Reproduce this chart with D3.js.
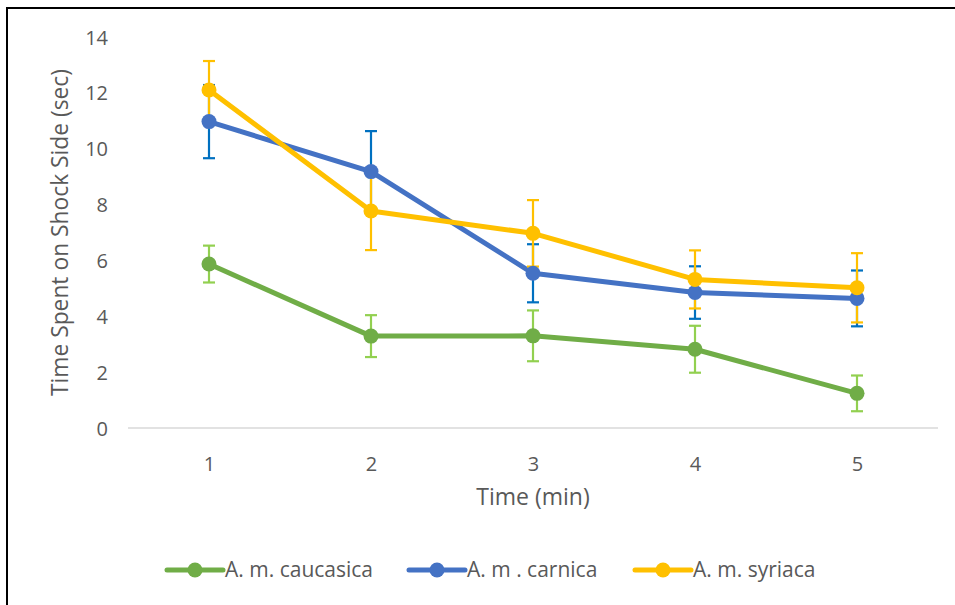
<!DOCTYPE html>
<html>
<head>
<meta charset="utf-8">
<script src="https://cdn.jsdelivr.net/npm/d3@7"></script>
<style>
  html, body { margin: 0; padding: 0; background: #fff; }
  svg { display: block; }
  text { font-family: "Open Sans", Lato, sans-serif; fill: #595959; }
</style>
</head>
<body>
<svg id="chart" width="955" height="605"></svg>
<script>
// Time points (minutes)
const minutes = ["1", "2", "3", "4", "5"];

// Mean time spent on the shock side (sec) per subspecies
const caucasica = [5.87, 3.29, 3.30, 2.82, 1.24];
const carnica   = [10.97, 9.18, 5.54, 4.85, 4.64];
const syriaca   = [12.10, 7.77, 6.97, 5.32, 5.02];

// Error bar half-widths
const caucasicaErr = [0.66, 0.75, 0.91, 0.84, 0.64];
const carnicaErr   = [1.31, 1.45, 1.04, 0.94, 1.00];
const syriacaErr   = [1.04, 1.40, 1.19, 1.04, 1.24];

const seriesNames = ["A. m. caucasica", "A. m . carnica", "A. m. syriaca"];
const yTicks = [0, 2, 4, 6, 8, 10, 12, 14];

const series = [
  { name: seriesNames[0], values: caucasica, err: caucasicaErr, color: "#70AD47", errColor: "#92D050" },
  { name: seriesNames[1], values: carnica,   err: carnicaErr,   color: "#4472C4", errColor: "#0070C0" },
  { name: seriesNames[2], values: syriaca,   err: syriacaErr,   color: "#FFC000", errColor: "#FFC000" }
];

const svg = d3.select("#chart");

// outer frame
svg.append("rect")
  .attr("x", 7).attr("y", 8).attr("width", 1000).attr("height", 1000)
  .attr("fill", "none").attr("stroke", "#000").attr("stroke-width", 2);

const plot = { left: 128, right: 938, top: 37, bottom: 428 };

const x = d3.scalePoint().domain(minutes).range([plot.left, plot.right]).padding(0.5);
const y = d3.scaleLinear().domain([0, 14]).range([plot.bottom, plot.top]);

// baseline
svg.append("line")
  .attr("x1", plot.left).attr("x2", plot.right)
  .attr("y1", y(0)).attr("y2", y(0))
  .attr("stroke", "#D9D9D9").attr("stroke-width", 1.5);

// y axis labels
const yAxis = d3.axisLeft(y).tickValues(yTicks).tickSize(0).tickPadding(0);
const yg = svg.append("g").attr("transform", `translate(${plot.left - 20},0)`).call(yAxis);
yg.select(".domain").remove();
yg.selectAll("text").attr("font-size", 20).attr("fill", "#595959")
  .attr("font-family", "'Open Sans', Lato, sans-serif").attr("dy", "0.35em");

// x axis labels
const xAxis = d3.axisBottom(x).tickSize(0).tickPadding(0);
const xg = svg.append("g").attr("transform", `translate(0,${plot.bottom + 36})`).call(xAxis);
xg.select(".domain").remove();
xg.selectAll("text").attr("font-size", 20).attr("fill", "#595959")
  .attr("font-family", "'Open Sans', Lato, sans-serif").attr("dy", "0.35em");

// axis titles
svg.append("text")
  .attr("x", (plot.left + plot.right) / 2).attr("y", 497)
  .attr("text-anchor", "middle").attr("dy", "0.35em")
  .attr("font-size", 23).text("Time (min)");

svg.append("text")
  .attr("transform", `translate(60,${(plot.top + plot.bottom) / 2}) rotate(-90)`)
  .attr("text-anchor", "middle").attr("dy", "0.35em")
  .attr("font-size", 22.8).text("Time Spent on Shock Side (sec)");

// lines
const line = d3.line().x((d, i) => x(minutes[i])).y(d => y(d));

series.forEach(s => {
  svg.append("path").datum(s.values)
    .attr("d", line).attr("fill", "none")
    .attr("stroke", s.color).attr("stroke-width", 5)
    .attr("stroke-linejoin", "round");
});

// error bars
const cap = 6;
series.forEach(s => {
  const g = svg.append("g").attr("stroke", s.errColor).attr("stroke-width", 2.2);
  s.values.forEach((v, i) => {
    const cx = x(minutes[i]);
    const hi = y(v + s.err[i]), lo = y(v - s.err[i]);
    g.append("line").attr("x1", cx).attr("x2", cx).attr("y1", hi).attr("y2", lo);
    g.append("line").attr("x1", cx - cap).attr("x2", cx + cap).attr("y1", hi).attr("y2", hi);
    g.append("line").attr("x1", cx - cap).attr("x2", cx + cap).attr("y1", lo).attr("y2", lo);
  });
});

// markers
series.forEach(s => {
  svg.append("g").selectAll("circle").data(s.values).join("circle")
    .attr("cx", (d, i) => x(minutes[i])).attr("cy", d => y(d))
    .attr("r", 7.5).attr("fill", s.color);
});

// legend
const legendX = [167, 409, 635];
const legend = svg.append("g");
series.forEach((s, i) => {
  const lg = legend.append("g").attr("transform", `translate(${legendX[i]},570)`);
  lg.append("line").attr("x1", 0).attr("x2", 56).attr("y1", 0).attr("y2", 0)
    .attr("stroke", s.color).attr("stroke-width", 5).attr("stroke-linecap", "round");
  lg.append("circle").attr("cx", 28).attr("cy", 0).attr("r", 7.5).attr("fill", s.color);
  lg.append("text").attr("x", 58).attr("y", 0).attr("dy", "0.35em")
    .attr("font-size", 21).text(s.name);
});
</script>
</body>
</html>
